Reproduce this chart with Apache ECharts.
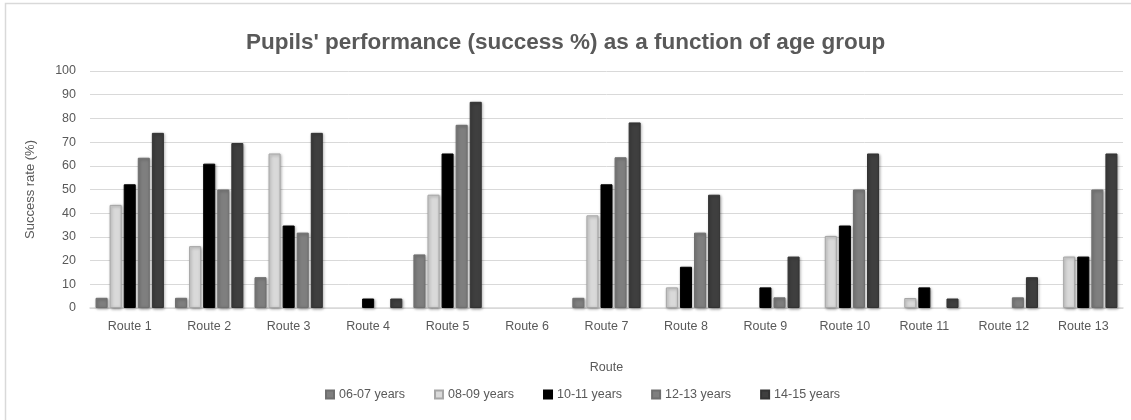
<!DOCTYPE html>
<html>
<head>
<meta charset="utf-8">
<script src="https://cdn.jsdelivr.net/npm/echarts@6/dist/echarts.min.js"></script>
<style>
  html, body { margin: 0; padding: 0; background: #fff; }
  #chart { width: 1131px; height: 420px; }
</style>
</head>
<body>
<div id="chart"></div>
<script>
// data
const routes = ["Route 1", "Route 2", "Route 3", "Route 4", "Route 5", "Route 6", "Route 7",
  "Route 8", "Route 9", "Route 10", "Route 11", "Route 12", "Route 13"];
const ageGroups = ["06-07 years", "08-09 years", "10-11 years", "12-13 years", "14-15 years"];
const age0607 = [4.3, 4.3, 13.0, 0, 22.6, 0, 4.3, 0, 0, 0, 0, 0, 0];
const age0809 = [43.5, 26.1, 65.2, 0, 47.8, 0, 39.1, 8.7, 0, 30.4, 4.2, 0, 21.7];
const age1011 = [52.2, 60.9, 34.8, 4.0, 65.2, 0, 52.2, 17.4, 8.7, 34.8, 8.7, 0, 21.7];
const age1213 = [63.4, 50.0, 31.8, 0, 77.3, 0, 63.6, 31.8, 4.5, 50.0, 0, 4.5, 50.0];
const age1415 = [73.9, 69.6, 73.9, 4.0, 87.0, 0, 78.3, 47.8, 21.7, 65.2, 4.0, 13.0, 65.2];
const yTicks = [0, 100, 10]; // min, max, step

const seriesValues = [age0607, age0809, age1011, age1213, age1415];
const fills = ["#7f7f7f", "#d9d9d9", "#000000", "#7f7f7f", "#3f3f3f"];
const borders = ["#6f6f6f", "#a6a6a6", "#000000", "#6f6f6f", "#333333"];

const font = "Liberation Sans";
const chart = echarts.init(document.getElementById("chart"));

chart.setOption({
  animation: false,
  textStyle: { fontFamily: font },
  title: {
    text: "Pupils' performance (success %) as a function of age group",
    left: "center",
    top: 26,
    textStyle: { color: "#595959", fontSize: 22.5, fontWeight: "bold", fontFamily: font }
  },
  graphic: [{
    type: "rect",
    shape: { x: 5.5, y: 3.5, width: 1300, height: 600 },
    style: { fill: "none", stroke: "#d9d9d9", lineWidth: 1.5 },
    silent: true
  }],
  legend: {
    data: ageGroups,
    bottom: 14,
    left: 320,
    itemWidth: 8,
    itemHeight: 8,
    itemGap: 29,
    icon: "rect",
    textStyle: { color: "#595959", fontSize: 12.5, fontFamily: font }
  },
  grid: { left: 90, right: 8, top: 71, bottom: 112 },
  xAxis: {
    type: "category",
    data: routes,
    name: "Route",
    nameLocation: "middle",
    nameGap: 53,
    nameTextStyle: { color: "#595959", fontSize: 12.5 },
    axisLine: { lineStyle: { color: "#d9d9d9", width: 1.5 } },
    axisTick: { show: false },
    axisLabel: { color: "#595959", fontSize: 12.5, margin: 12 }
  },
  yAxis: {
    type: "value",
    min: yTicks[0],
    max: yTicks[1],
    interval: yTicks[2],
    name: "Success rate (%)",
    nameLocation: "middle",
    nameGap: 53,
    nameTextStyle: { color: "#595959", fontSize: 13 },
    axisLine: { show: false },
    axisTick: { show: false },
    axisLabel: { color: "#595959", fontSize: 12.5, margin: 14 },
    splitLine: { lineStyle: { color: "#d9d9d9", width: 1 } }
  },
  series: seriesValues.map((vals, i) => ({
    name: ageGroups[i],
    type: "bar",
    // zero bars are not drawn in the reference, so leave them empty
    data: vals.map(v => (v === 0 ? null : v)),
    barGap: "17%",
    barCategoryGap: "14%",
    itemStyle: {
      color: fills[i],
      borderColor: borders[i],
      borderWidth: 1,
      shadowColor: "rgba(0,0,0,0.35)",
      shadowBlur: 3,
      shadowOffsetX: 1,
      shadowOffsetY: 1
    }
  }))
});
</script>
</body>
</html>
